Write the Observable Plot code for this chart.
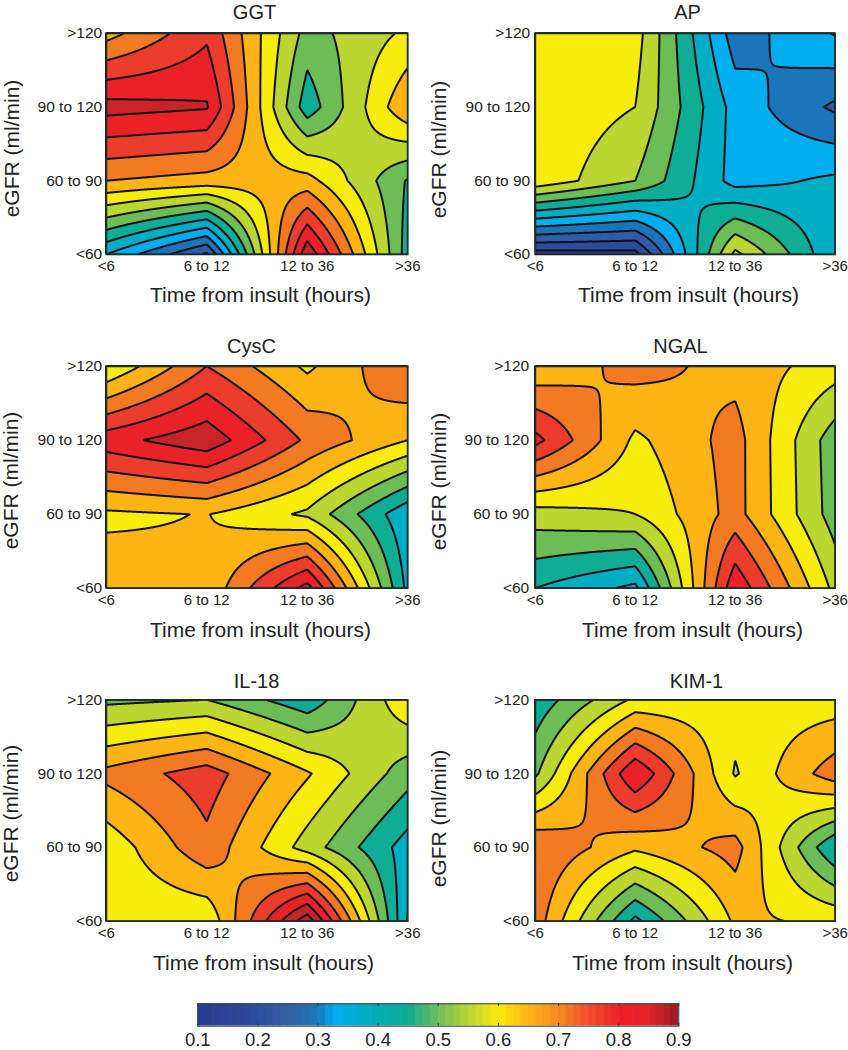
<!DOCTYPE html>
<html>
<head>
<meta charset="utf-8">
<script src="https://cdn.jsdelivr.net/npm/d3@7"></script>
<script src="https://cdn.jsdelivr.net/npm/@observablehq/plot@0.6"></script>
<style>
html,body{margin:0;padding:0;background:#fff;overflow:hidden}
#page{position:relative;width:848px;height:1050px;overflow:hidden;background:#fff}
#page svg{position:absolute;background:transparent;overflow:visible}
</style>
</head>
<body>
<div id="page"></div>
<script>
// Axis categories
const timeLabels = ["<6", "6 to 12", "12 to 36", ">36"];
const gfrLabels = [">120", "90 to 120", "60 to 90", "<60"];
const xLabel = "Time from insult (hours)";
const yLabel = "eGFR (ml/min)";

// Values: rows run top (>120) to bottom (<60), columns left (<6) to right (>36)
const ggt = [
  [.63,.74,.48,.56],
  [.82,.805,.42,.645],
  [.65,.63,.62,.445],
  [.35,.19,.84,.425]
];
const ap = [
  [.59,.573,.272,.354],
  [.59,.55,.33,.24],
  [.588,.50,.33,.36],
  [.125,.13,.565,.355]
];
const cysc = [
  [.55,.70,.59,.70],
  [.78,.835,.69,.60],
  [.59,.602,.54,.36],
  [.63,.61,.82,.385]
];
const ngal = [
  [.609,.67,.632,.575],
  [.767,.589,.67,.47],
  [.527,.55,.67,.475],
  [.40,.337,.79,.535]
];
const il18 = [
  [.488,.50,.415,.59],
  [.665,.726,.606,.472],
  [.565,.686,.527,.376],
  [.56,.558,.884,.345]
];
const kim1 = [
  [.416,.56,.573,.572],
  [.49,.798,.545,.68],
  [.70,.61,.67,.40],
  [.68,.385,.61,.59]
];

// Contour levels and the flat colour of the band above each level
const levels = [.05,.10,.15,.20,.25,.30,.35,.40,.45,.50,.55,.60,.65,.70,.75,.80,.85];
const bandColors = ["#2a3a90","#2b3f95","#2c4a9e","#2f5ca8","#1b75bb","#00aeef","#00aec4","#0fac96","#6cbd55","#bbd531","#f8ec0d","#fdb515","#f37a22","#ec3c2b","#ea2228","#c9232a","#c9232a"];

// Colour bar
const barTicks = [.1,.2,.3,.4,.5,.6,.7,.8,.9];
const barStops = [.1,.2,.25,.3,.33,.4,.45,.5,.55,.6,.65,.7,.75,.8,.85,.9];
const barColors = ["#2a3a90","#2f4b9f","#35609f","#1878ba","#00aeef","#00adb2","#10ab90","#6cbd5c","#bbd531","#f9ec0c","#fdb515","#f68a1f","#ef4f2a","#ec2127","#e6232a","#961b20"];

const panels = [
  {title:"GGT",   values:ggt,  left:0,   top:0,   fl:105.7,fr:407.3,ft:32.7, fb:254,  tx:254,ty:12,  lx:260,ly:295, ex:12, ey:148, pad:7},
  {title:"AP",    values:ap,   left:424, top:0,   fl:534.7,fr:834.7,ft:32.7, fb:254,  tx:687,ty:12,  lx:688,ly:295, ex:439,ey:149, pad:8},
  {title:"CysC",  values:cysc, left:0,   top:335, fl:105.7,fr:407.3,ft:365.7,fb:587.7,tx:251,ty:346, lx:260,ly:630, ex:11, ey:480, pad:7},
  {title:"NGAL",  values:ngal, left:424, top:335, fl:534.7,fr:834.7,ft:365.7,fb:587.7,tx:680,ty:346, lx:692,ly:630, ex:439,ey:481, pad:9},
  {title:"IL-18", values:il18, left:0,   top:670, fl:105.7,fr:407.3,ft:699.3,fb:920.7,tx:256,ty:681, lx:263,ly:963, ex:11, ey:813, pad:7},
  {title:"KIM-1", values:kim1, left:424, top:670, fl:534.7,fr:834.7,ft:699.3,fb:920.7,tx:696,ty:681, lx:682,ly:963, ex:439,ey:818, pad:9}
];

const font = "'Liberation Sans', Arial, sans-serif";
const ink = "#222";
const page = document.getElementById("page");

// Plot spatial interpolator: bilinear between the four surrounding measured cells
function bilinear(index, w, h, X, Y, V) {
  const n = 4, g = new Float64Array(n * n);
  for (const i of index) {
    const c = Math.round(X[i] / w * (n - 1)), r = Math.round(Y[i] / h * (n - 1));
    g[r * n + c] = V[i];
  }
  const W = new Float64Array(w * h);
  for (let j = 0; j < h; ++j) {
    const v = (j + .5) / h * (n - 1), r = Math.min(n - 2, Math.floor(v)), fy = v - r;
    for (let i = 0; i < w; ++i) {
      const u = (i + .5) / w * (n - 1), c = Math.min(n - 2, Math.floor(u)), fx = u - c;
      W[j * w + i] = (1 - fy) * ((1 - fx) * g[r * n + c] + fx * g[r * n + c + 1])
                   + fy * ((1 - fx) * g[(r + 1) * n + c] + fx * g[(r + 1) * n + c + 1]);
    }
  }
  return W;
}

for (const p of panels) {
  const w = 424, h = 320;
  const samples = p.values.flatMap((row, r) => row.map((value, c) => ({c, r, value})));
  const chart = Plot.plot({
    width: w, height: h,
    marginLeft: p.fl - p.left, marginRight: w - (p.fr - p.left),
    marginTop: p.ft - p.top, marginBottom: h - (p.fb - p.top),
    style: {fontFamily: font, background: "transparent", overflow: "visible"},
    x: {domain: [0, 3]},
    y: {domain: [3, 0]},
    color: {type: "ordinal", domain: levels, range: bandColors},
    marks: [
      Plot.contour(samples, {
        x: "c", y: "r", value: "value",
        interpolate: bilinear, pixelSize: 0.5, thresholds: levels,
        fill: "value", stroke: "#111", strokeWidth: 2, strokeLinejoin: "round", clip: true
      }),
      Plot.frame({stroke: "#1d2f2f", strokeWidth: 1.6}),
      Plot.axisX({ticks: [0,1,2,3], tickFormat: i => timeLabels[i], tickSize: 0, tickPadding: 6, fontSize: 15, label: null, color: ink}),
      Plot.axisY({ticks: [0,1,2,3], tickFormat: i => gfrLabels[i], tickSize: 0, tickPadding: p.pad - 3, fontSize: 15.5, label: null, color: ink}),
      Plot.text([p.title], {frameAnchor: "top-left", text: d => d, dx: p.tx - p.fl, dy: p.ty - p.ft, textAnchor: "middle", lineAnchor: "middle", fontSize: 20, fill: ink}),
      Plot.text([xLabel], {frameAnchor: "top-left", text: d => d, dx: p.lx - p.fl, dy: p.ly - p.ft, textAnchor: "middle", lineAnchor: "middle", fontSize: 21, fill: ink}),
      Plot.text([yLabel], {frameAnchor: "top-left", text: d => d, dx: p.ex - p.fl, dy: p.ey - p.ft, rotate: -90, textAnchor: "middle", lineAnchor: "middle", fontSize: 21, fill: ink})
    ]
  });
  chart.style.left = p.left + "px";
  chart.style.top = p.top + "px";
  page.appendChild(chart);
}

// Colour bar
{
  const left = 170, top = 995, w = 540, h = 55;
  const bl = 197.3, br = 678.3, bt = 1003.3, bb = 1025.7;
  const step = 0.0125;
  const bins = d3.range(Math.round((.9 - .1) / step)).map(i => .1 + i * step);
  const bar = Plot.plot({
    width: w, height: h,
    marginLeft: bl - left, marginRight: w - (br - left),
    marginTop: bt - top, marginBottom: h - (bb - top),
    style: {fontFamily: font, background: "transparent", overflow: "visible"},
    x: {domain: [.1, .9]},
    y: {domain: [0, 1], axis: null},
    color: {type: "linear", domain: barStops, range: barColors, interpolate: "rgb"},
    marks: [
      Plot.rect(bins, {x1: d => d, x2: d => d + step + .001, y1: 0, y2: 1, fill: d => d + step / 2, clip: true}),
      Plot.ruleX(barTicks, {x: d => d, y1: 0, y2: .12, stroke: "#244", strokeWidth: 1}),
      Plot.ruleX(barTicks, {x: d => d, y1: .88, y2: 1, stroke: "#244", strokeWidth: 1}),
      Plot.frame({stroke: "#2a3a44", strokeWidth: 1}),
      Plot.axisX({ticks: barTicks, tickFormat: d => d.toFixed(1), tickSize: 0, tickPadding: 7, fontSize: 18.5, label: null, color: ink})
    ]
  });
  bar.style.left = left + "px";
  bar.style.top = top + "px";
  page.appendChild(bar);
}
</script>
</body>
</html>
